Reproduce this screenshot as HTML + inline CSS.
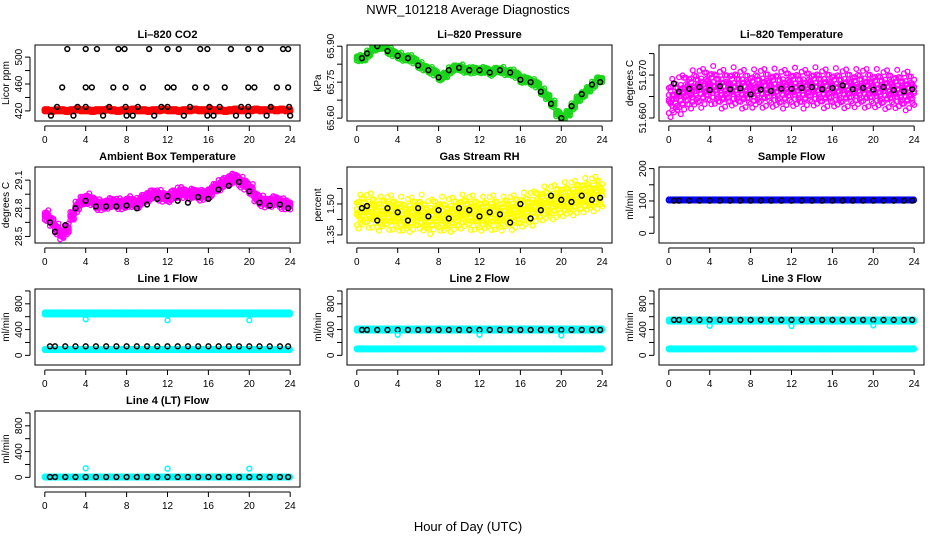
<!DOCTYPE html>
<html><head><meta charset="utf-8">
<style>
body{margin:0;background:#fff;}
svg{display:block;font-family:"Liberation Sans",Arial,sans-serif;}
</style></head>
<body>
<svg id="c" width="936" height="540" viewBox="0 0 936 540" xmlns="http://www.w3.org/2000/svg">
<text x="468" y="14" font-size="13" text-anchor="middle">NWR_101218  Average Diagnostics</text>
<text x="468" y="531" font-size="13" text-anchor="middle">Hour of Day (UTC)</text>
</svg>
<script>
// ---- data ----
const halfHours = [0,0.5,1,1.5,2,2.5,3,3.5,4,4.5,5,5.5,6,6.5,7,7.5,8,8.5,9,9.5,10,10.5,11,11.5,12,12.5,13,13.5,14,14.5,15,15.5,16,16.5,17,17.5,18,18.5,19,19.5,20,20.5,21,21.5,22,22.5,23,23.5,24];
const hourly = [0.5,1,2,3,4,5,6,7,8,9,10,11,12,13,14,15,16,17,18,19,20,21,22,23,23.8];
const xTicks = [0,4,8,12,16,20,24];

const co2Red = [421,420,421,421,420,421,422,421,421,420,421,421,422,421,420,421,421,422,421,421,420,421,421,422,421,421,420,421,421,422,421,421,422,421,421,420,421,422,421,421,421,422,421,421,422,421,422,421,421];
const co2BlackHours = [2.2,4.0,5.1,7.2,7.8,10.2,12.0,13.1,15.2,15.9,18.2,19.9,21.1,23.3,23.8, 1.7,4.0,4.6,6.7,7.9,9.6,12.0,12.6,14.7,15.8,17.6,19.9,20.5,22.7,23.8, 1.2,3.2,4.0,6.3,7.9,9.1,11.4,12.0,14.2,16.1,17.1,19.2,19.9,22.1,23.9, 0.6,2.8,5.7,8.0,8.6,10.7,13.6,15.9,16.5,18.7,19.9,21.7,24.0];
const co2BlackVals = [512,512,512,512,512,512,512,512,512,512,512,512,512,512,512, 455,455,455,455,455,455,455,455,455,455,455,455,455,455,455, 426,426,426,426,426,426,426,426,426,426,426,426,426,426,426, 413,413,413,413,413,413,413,413,413,413,413,413,413];

const presGreen = [65.85,65.85,65.87,65.89,65.90,65.90,65.88,65.87,65.86,65.85,65.85,65.84,65.82,65.81,65.80,65.79,65.77,65.78,65.80,65.81,65.81,65.80,65.80,65.80,65.80,65.80,65.79,65.80,65.80,65.79,65.79,65.78,65.76,65.76,65.75,65.74,65.71,65.69,65.66,65.62,65.60,65.62,65.65,65.68,65.70,65.72,65.74,65.76,65.76];
const presBlack = [65.85,65.87,65.90,65.88,65.86,65.85,65.82,65.80,65.77,65.80,65.81,65.80,65.80,65.79,65.80,65.79,65.76,65.75,65.71,65.66,65.60,65.65,65.70,65.74,65.75];

const tempMag = [51.6645,51.6650,51.6655,51.6660,51.6665,51.6668,51.6670,51.6672,51.6675,51.6670,51.6668,51.6666,51.6672,51.6670,51.6668,51.6665,51.6667,51.6668,51.6670,51.6668,51.6669,51.6667,51.6668,51.6670,51.6671,51.6669,51.6668,51.6670,51.6672,51.6670,51.6669,51.6667,51.6670,51.6668,51.6669,51.6667,51.6668,51.6669,51.6670,51.6667,51.6668,51.6666,51.6667,51.6665,51.6666,51.6664,51.6664,51.6663,51.6664];
const tempBlack = [51.6680,51.6661,51.6668,51.6672,51.6665,51.6674,51.6667,51.6669,51.6655,51.6666,51.6663,51.6668,51.6668,51.6670,51.6672,51.6667,51.6670,51.6676,51.6667,51.6670,51.6666,51.6672,51.6665,51.6662,51.6667];

const ambMag = [28.72,28.66,28.58,28.52,28.58,28.72,28.82,28.88,28.90,28.88,28.84,28.83,28.85,28.86,28.85,28.84,28.87,28.86,28.86,28.90,28.93,28.95,28.94,28.92,28.92,28.95,28.97,28.96,28.95,28.96,28.94,28.94,28.97,29.02,29.05,29.08,29.11,29.12,29.08,29.05,29.00,28.92,28.88,28.86,28.87,28.88,28.85,28.84,28.83];
const ambBlack = [28.65,28.55,28.62,28.80,28.88,28.82,28.82,28.82,28.83,28.80,28.84,28.90,28.93,28.88,28.86,28.92,28.90,29.00,29.04,29.08,28.98,28.86,28.83,28.84,28.80];

const rhYellow = [1.46,1.47,1.47,1.46,1.45,1.46,1.46,1.45,1.45,1.44,1.45,1.45,1.46,1.44,1.44,1.45,1.45,1.44,1.45,1.45,1.46,1.46,1.46,1.45,1.45,1.45,1.46,1.45,1.45,1.46,1.46,1.46,1.47,1.47,1.48,1.49,1.50,1.50,1.51,1.51,1.52,1.52,1.53,1.53,1.54,1.54,1.55,1.55,1.55];
const rhBlack = [1.48,1.49,1.42,1.48,1.46,1.42,1.48,1.44,1.47,1.43,1.48,1.47,1.44,1.46,1.45,1.41,1.50,1.43,1.47,1.54,1.52,1.51,1.54,1.52,1.53];

const sampleBlue = 103;
const sampleBlack = 101;

const l1Cyan = 650, l1CyanLow = 90, l1Black = 140;
const l2Cyan = 400, l2CyanLow = 100, l2Black = 395;
const l3Cyan = 540, l3CyanLow = 100, l3Black = 550;
const l4Cyan = 5, l4Black = 5;
const dipHours = [4,12,20];
const l1Dips = [560,545,545];
const l2Dips = [320,320,310];
const l3Dips = [460,455,465];
const l4Dips = [140,135,135];

// ---- drawing ----
const svg = document.getElementById('c');
const NS = 'http://www.w3.org/2000/svg';
function mk(tag, attrs, parent){
  const e = document.createElementNS(NS, tag);
  for (const k in attrs) e.setAttribute(k, attrs[k]);
  (parent||svg).appendChild(e);
  return e;
}
const PW = 265, PH = 76;
function panel(col, row, title, ylab, ylim, yTicks, yLabels, name){
  const L = 35 + 312*col, T = 45 + 122*row;
  const g = mk('g', {});
  
  
  const xs = h => L + (h + 0.96) / 25.92 * PW;
  const ys = v => T + PH - (v - ylim[0]) / (ylim[1] - ylim[0]) * PH;
  const t = mk('text', {x: L + PW/2, y: T - 7, 'font-size': 11, 'font-weight': 'bold', 'text-anchor': 'middle'}, g);
  t.textContent = title;
  
  
  const clip = 'clip-' + name;
  const cp = mk('clipPath', {id: clip}, g);
  mk('rect', {x: L, y: T, width: PW, height: PH}, cp);
  const marks = mk('g', {}, g);
  
  
  marks.setAttribute('clip-path', `url(#${clip})`);
  const box = mk('rect', {x: L, y: T, width: PW, height: PH, fill: 'none', stroke: '#000', 'stroke-width': 1}, g);
  
  
  const xa = mk('g', {}, g);
  
  
  mk('line', {x1: xs(0), x2: xs(24), y1: T+PH+5, y2: T+PH+5, stroke: '#000'}, xa);
  xTicks.forEach(h => {
    mk('line', {x1: xs(h), x2: xs(h), y1: T+PH+5, y2: T+PH+10, stroke: '#000'}, xa);
    const tx = mk('text', {x: xs(h), y: T+PH+22, 'font-size': 10, 'text-anchor': 'middle'}, xa);
    tx.textContent = h;
  });
  const ya = mk('g', {}, g);
  
  
  mk('line', {x1: L-5, x2: L-5, y1: ys(yTicks[0]), y2: ys(yTicks[yTicks.length-1]), stroke: '#000'}, ya);
  yTicks.forEach((v, i) => {
    mk('line', {x1: L-5, x2: L-10, y1: ys(v), y2: ys(v), stroke: '#000'}, ya);
    if (yLabels[i] !== '') {
      const tx = mk('text', {x: 0, y: 0, 'font-size': 10, 'text-anchor': 'middle', transform: `translate(${L-13},${ys(v)}) rotate(-90)`}, ya);
      tx.textContent = yLabels[i];
    }
  });
  const yl = mk('text', {x: 0, y: 0, 'font-size': 10, 'text-anchor': 'middle', transform: `translate(${L-26},${T+PH/2}) rotate(-90)`}, g);
  yl.textContent = ylab;
  
  
  function pt(h, v, color, dy, sw){
    return mk('circle', {cx: xs(h), cy: ys(v) + (dy||0), r: 2.4, fill: 'none', stroke: color, 'stroke-width': sw||1.3}, marks);
  }
  return {xs, ys, pt};
}
// visual jitter pattern (styling only, not data)
const jitter = [0, 0.7, -0.4, 1, -0.9, 0.3, -0.7, 0.55, -0.2, 0.85, -1, 0.15];
function cloud(p, hours, vals, color, spreadPx){
  const offs = [-1, -0.5, 0, 0.5, 1];
  hours.forEach((h, i) => {
    [0, 0.17, 0.34].forEach((dh, j) => {
      offs.forEach((o, k) => {
        const jj = jitter[(i*3 + j*5 + k) % jitter.length];
        if (h + dh <= 24) p.pt(h + dh, vals[i], color, (o*0.6 + jj*0.5) * spreadPx);
      });
    });
  });
}
function flat(p, value, color, spreadPx){
  for (let h = 0; h <= 24.001; h += 0.17) {
    [-1, 0, 1].forEach(o => p.pt(h, value, color, o * spreadPx));
  }
}
function points(p, hours, vals, color){
  hours.forEach((h, i) => p.pt(h, vals[i], color, 0, 1.5));
}

// Row 1
let p = panel(0, 0, 'Li\u2013820 CO2', 'Licor ppm', [405, 518], [420,440,460,480,500], ['420','','460','','500'], 'co2');
halfHours.forEach((h,i)=>{ [0,0.17,0.34].forEach(dh=>{ if(h+dh<=24){ p.pt(h+dh, co2Red[i], '#f00', -0.8, 1.8); p.pt(h+dh, co2Red[i], '#f00', 0.8, 1.8);} }); });
points(p, co2BlackHours, co2BlackVals, '#000');

p = panel(1, 0, 'Li\u2013820 Pressure', 'kPa', [65.588, 65.905], [65.60,65.675,65.75,65.825,65.90], ['65.60','','65.75','','65.90'], 'pressure');
cloud(p, halfHours, presGreen, '#1bd61b', 3);
points(p, hourly, presBlack, '#000');

p = panel(2, 0, 'Li\u2013820 Temperature', 'degrees C', [51.6593, 51.6770], [51.660,51.665,51.670,51.675], ['51.660','','51.670',''], 'li820-temp');
cloud(p, halfHours, tempMag, '#f0f', 18);
points(p, hourly, tempBlack, '#000');

// Row 2
p = panel(0, 1, 'Ambient Box Temperature', 'degrees C', [28.43, 29.24], [28.5,28.65,28.8,28.95,29.1], ['28.5','','28.8','','29.1'], 'ambient-temp');
cloud(p, halfHours, ambMag, '#f0f', 5);
points(p, hourly, ambBlack, '#000');

p = panel(1, 1, 'Gas Stream RH', 'percent', [1.311, 1.679], [1.35,1.425,1.50,1.575], ['1.35','','1.50',''], 'gas-rh');
cloud(p, halfHours, rhYellow, '#ff0', 16);
points(p, hourly, rhBlack, '#000');

p = panel(2, 1, 'Sample Flow', 'ml/min', [-30, 205], [0,50,100,150,200], ['0','','100','','200'], 'sample-flow');
flat(p, sampleBlue, '#00f', 0.5);
points(p, hourly, hourly.map(()=>sampleBlack), '#000');

// Rows 3-4 flows
const fT = [0,200,400,600,800,1000], fL = ['0','','400','','800',''];
const fY = [-150, 1030];
p = panel(0, 2, 'Line 1 Flow', 'ml/min', fY, fT, fL, 'line1-flow');
flat(p, l1Cyan, '#0ff', 1); flat(p, l1CyanLow, '#0ff', 0.5);
points(p, hourly, hourly.map(()=>l1Black), '#000');
points(p, dipHours, l1Dips, '#0ff');

p = panel(1, 2, 'Line 2 Flow', 'ml/min', fY, fT, fL, 'line2-flow');
flat(p, l2Cyan, '#0ff', 1); flat(p, l2CyanLow, '#0ff', 0.5);
points(p, hourly, hourly.map(()=>l2Black), '#000');
points(p, dipHours, l2Dips, '#0ff');

p = panel(2, 2, 'Line 3 Flow', 'ml/min', fY, fT, fL, 'line3-flow');
flat(p, l3Cyan, '#0ff', 1); flat(p, l3CyanLow, '#0ff', 0.5);
points(p, hourly, hourly.map(()=>l3Black), '#000');
points(p, dipHours, l3Dips, '#0ff');

p = panel(0, 3, 'Line 4 (LT) Flow', 'ml/min', fY, fT, fL, 'line4-flow');
flat(p, l4Cyan, '#0ff', 0.5);
points(p, hourly, hourly.map(()=>l4Black), '#000');
points(p, dipHours, l4Dips, '#0ff');
</script>
</body></html>
